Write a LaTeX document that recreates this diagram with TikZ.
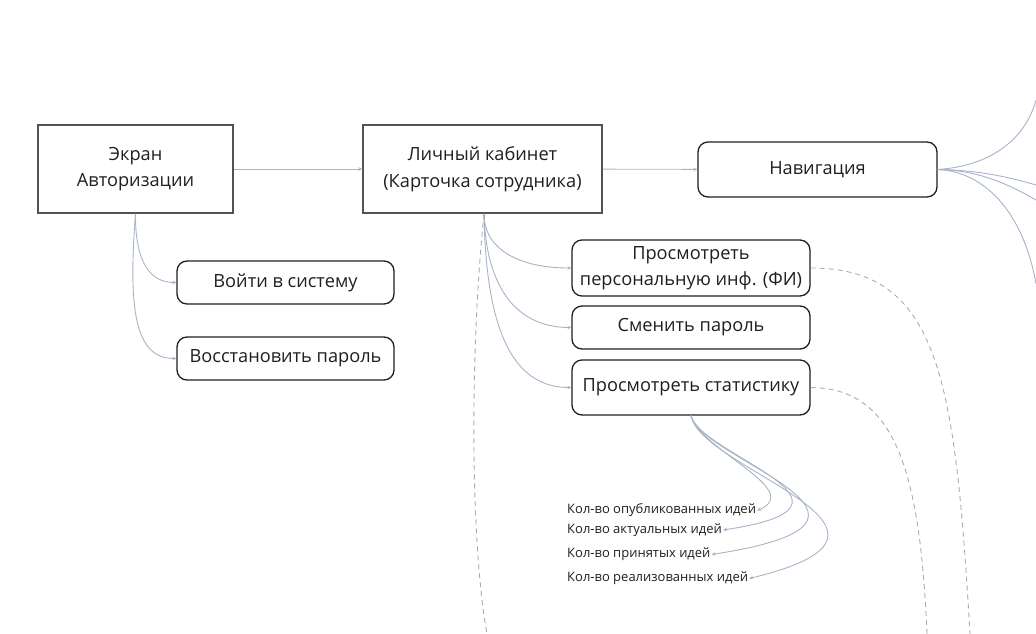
\documentclass[tikz,border=0pt]{standalone}
\usepackage{fontspec}
\setmainfont{Open Sans}
\usepackage{tikz}
\usepackage{xcolor}
\usetikzlibrary{arrows.meta}
\definecolor{lienbleu}{HTML}{A7B3C8}
\definecolor{gristiret}{HTML}{ABABAB}
\tikzset{
Ecran/.style={
 draw=black!68,
 line width=1.5pt,
 inner sep=2pt,
 align=center,
 text=black!88,
 font=\fontsize{18.2}{26.5}\selectfont
 },
Bouton/.style={
 draw=black!88,
 line width=1.3pt,
 rounded corners=10pt,
 inner sep=2pt,
 align=center,
 text=black!88,
 font=\fontsize{18.2}{26.5}\selectfont
 },
Info/.style={
 anchor=west,
 inner sep=1pt,
 text=black!88,
 font=\fontsize{13}{15}\selectfont
 },
Lien/.style={
 draw=lienbleu,
 line width=0.9pt,
 -{Stealth[length=4pt,width=3.5pt]}
 },
LienLibre/.style={
 draw=lienbleu,
 line width=0.9pt
 },
Tiret/.style={
 draw=gristiret,
 line width=0.9pt,
 dash pattern=on 5pt off 4pt
 }
}
\begin{document}
\begin{tikzpicture}[x=1pt,y=-1pt]
\useasboundingbox (0,0) rectangle (1036,634);
\node[Ecran,minimum width=195,minimum height=88] (auth) at (135.5,169) {Экран\\Авторизации};
\node[Ecran,minimum width=239,minimum height=88] (cab) at (482.5,169) {Личный кабинет\\(Карточка сотрудника)};
\node[Bouton,minimum width=239,minimum height=55] (nav) at (817.5,169.5) {Навигация};
\node[Bouton,minimum width=217,minimum height=43] (login) at (285.5,282.5) {Войти в систему};
\node[Bouton,minimum width=217,minimum height=43] (restore) at (285.5,358.5) {Восстановить пароль};
\node[Bouton,minimum width=238,minimum height=56] (pers) at (691,268) {Просмотреть\\персональную инф. (ФИ)};
\node[Bouton,minimum width=238,minimum height=43] (pwd) at (691,327.5) {Сменить пароль};
\node[Bouton,minimum width=238,minimum height=55] (stat) at (691,387.5) {Просмотреть статистику};
\node[Info] (publ) at (566,510.5) {Кол-во опубликованных идей};
\node[Info] (actu) at (566,530) {Кол-во актуальных идей};
\node[Info] (prin) at (566,554.5) {Кол-во принятых идей};
\node[Info] (real) at (566,578.5) {Кол-во реализованных идей};
\coordinate (navA) at (1036,100);
\coordinate (navB) at (1036,185);
\coordinate (navC) at (1036,200);
\coordinate (navD) at (1036,284);
\coordinate (basA) at (487,634);
\coordinate (basB) at (927,634);
\coordinate (basC) at (970,634);
\draw[Lien] (auth) -- (cab);
\draw[Lien] (cab) -- (nav);
\draw[Lien] (auth.south) .. controls (135,262) and (150,282.5) .. (login.west);
\draw[Lien] (auth.south) .. controls (128,310) and (135,358.5) .. (restore.west);
\draw[Lien] ([xshift=1.5pt]cab.south) .. controls (484,250) and (520,268) .. (pers.west);
\draw[Lien] ([xshift=1.5pt]cab.south) .. controls (486,292) and (520,327.5) .. (pwd.west);
\draw[Lien] ([xshift=1.5pt]cab.south) .. controls (486,335) and (515,387.5) .. (stat.west);
\draw[Lien] (stat.south) .. controls (700,450) and (805,490) .. (publ.east);
\draw[Lien] (stat.south) .. controls (700,455) and (890,505) .. (actu.east);
\draw[Lien] (stat.south) .. controls (700,460) and (935,520) .. (prin.east);
\draw[Lien] (stat.south) .. controls (700,470) and (950,530) .. (real.east);
\draw[LienLibre] (nav.east) .. controls (990,166) and (1025,140) .. (navA);
\draw[LienLibre] (nav.east) .. controls (975,170) and (1005,176) .. (navB);
\draw[LienLibre] (nav.east) .. controls (975,170) and (1005,182) .. (navC);
\draw[LienLibre] (nav.east) .. controls (990,172) and (1025,220) .. (navD);
\draw[Tiret] ([xshift=1.5pt]cab.south) .. controls (470,350) and (470,540) .. (basA);
\draw[Tiret] (stat.east) .. controls (895,388) and (920,470) .. (basB);
\draw[Tiret] (pers.east) .. controls (940,268) and (955,380) .. (basC);
\end{tikzpicture}
\end{document}
